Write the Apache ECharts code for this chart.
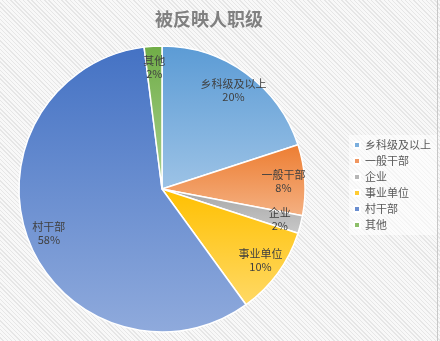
<!DOCTYPE html>
<html>
<head>
<meta charset="utf-8">
<script src="https://cdn.jsdelivr.net/npm/echarts@6/dist/echarts.min.js"></script>
<style>
  html, body { margin: 0; padding: 0; }
  #chart {
    width: 440px; height: 341px;
    background: repeating-linear-gradient(45deg, #f8f8f8 0px, #f8f8f8 2px, #e6e6e6 2px, #e6e6e6 3px);
  }
</style>
</head>
<body>
<div id="chart"></div>
<script>
// Share of reported persons by rank (%)
const categories = ['乡科级及以上', '一般干部', '企业', '事业单位', '村干部', '其他'];
const shares = [20, 8, 2, 10, 58, 2];
// top / bottom shade of each slice, plus the flat legend swatch
const topColors = ['#5B9BD5', '#ED7D31', '#A5A5A5', '#FFC000', '#4472C4', '#70AD47'];
const bottomColors = ['#9DC3E6', '#F4B183', '#C9C9C9', '#FFD966', '#8FAADC', '#A9D18E'];
const swatchColors = ['#7BAFDE', '#F09660', '#B7B7B7', '#FFCC33', '#6A8ED0', '#8DBF6A'];

const CJK = '"Noto Sans CJK SC", "Microsoft YaHei", sans-serif';
const center = [162, 189];
const R = 143;

const chart = echarts.init(document.getElementById('chart'), null, { renderer: 'canvas' });

const sliceData = categories.map((name, i) => ({
  name,
  value: shares[i],
  itemStyle: {
    color: new echarts.graphic.LinearGradient(0, 0, 0, 1, [
      { offset: 0, color: topColors[i] },
      { offset: 1, color: bottomColors[i] }
    ])
  }
}));

chart.setOption({
  backgroundColor: 'transparent',
  animation: false,
  title: {
    text: '被反映人职级',
    left: 150,
    top: 5,
    textStyle: { fontFamily: CJK, fontSize: 18, fontWeight: 'bold', color: '#808080' }
  },
  legend: {
    orient: 'vertical',
    left: 349,
    top: 135,
    padding: [4, 6, 4, 4],
    backgroundColor: 'rgba(255,255,255,0.55)',
    itemWidth: 6,
    itemHeight: 6,
    itemGap: 4,
    icon: 'rect',
    textStyle: { fontFamily: CJK, fontSize: 11, color: '#595959', lineHeight: 12 },
    data: categories.map((name, i) => ({ name, itemStyle: { color: swatchColors[i] } }))
  },
  series: [
    {
      type: 'pie',
      center,
      radius: [0, R],
      startAngle: 90,
      clockwise: true,
      avoidLabelOverlap: false,
      itemStyle: { borderColor: '#ffffff', borderWidth: 1.5 },
      label: { show: false },
      labelLine: { show: false },
      emphasis: { disabled: true },
      data: sliceData
    },
    {
      // transparent ring that only carries the slice labels near the rim
      type: 'pie',
      center,
      radius: [R * 0.66, R],
      startAngle: 90,
      clockwise: true,
      silent: true,
      avoidLabelOverlap: false,
      itemStyle: { color: 'rgba(0,0,0,0)' },
      label: {
        show: true,
        position: 'inside',
        formatter: '{b}\n{c}%',
        fontFamily: CJK,
        fontSize: 11,
        lineHeight: 13,
        color: '#404040'
      },
      labelLine: { show: false },
      emphasis: { disabled: true },
      data: categories.map((name, i) => ({ name, value: shares[i] }))
    }
  ],
  graphic: [
    {
      type: 'line',
      shape: { x1: 437.5, y1: 0, x2: 437.5, y2: 341 },
      style: { stroke: '#c8c8c8', lineWidth: 1 }
    }
  ]
});
</script>
</body>
</html>
